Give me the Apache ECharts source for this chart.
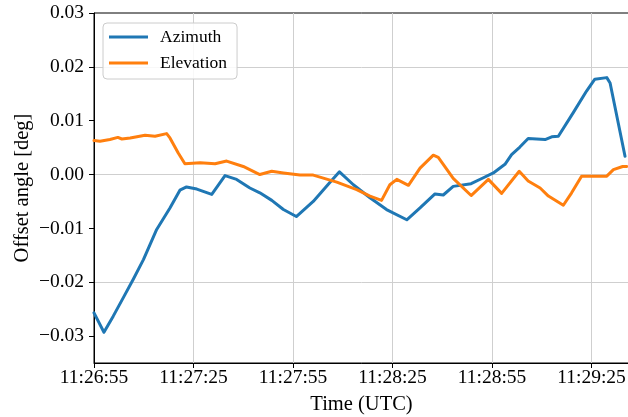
<!DOCTYPE html>
<html>
<head>
<meta charset="utf-8">
<script src="https://cdn.jsdelivr.net/npm/echarts@6/dist/echarts.min.js"></script>
<style>
  html, body { margin: 0; padding: 0; background: #fff; }
  #chart { width: 628px; height: 417px; }
</style>
</head>
<body>
<div id="chart"></div>
<script>
// Pointing offsets, seconds after 11:26:55 UTC
const startTime = '11:26:55';

const azimuthTime = [0, 3.0, 5.8, 8.8, 11.8, 14.9, 18.9, 22.9, 25.9, 27.9, 31.0, 35.5, 39.5, 43.0,
  47.0, 50.0, 53.6, 57.1, 61.0, 66.1, 71.1, 74.0, 78.2, 83.2, 88.2, 94.3, 98.3, 102.8, 105.3,
  108.3, 113.7, 117.4, 120.4, 123.9, 125.9, 128.4, 130.9, 136.0, 138.0, 140.0, 144.5, 148.5,
  151.0, 154.6, 155.6, 160.1];
const azimuth = [-0.0257, -0.0293, -0.0263, -0.0229, -0.0195, -0.0158, -0.0102, -0.0062, -0.0029,
  -0.0023, -0.0027, -0.0037, -0.0002, -0.0009, -0.0025, -0.0034, -0.0048, -0.0065, -0.0078,
  -0.0050, -0.0015, 0.0005, -0.0019, -0.0043, -0.0065, -0.0084, -0.0062, -0.0036, -0.0038,
  -0.0022, -0.0017, -0.0006, 0.0003, 0.0019, 0.0037, 0.0051, 0.0067, 0.0065, 0.0070, 0.0071,
  0.0115, 0.0155, 0.0177, 0.0180, 0.0170, 0.0034];

const elevationTime = [0, 1.8, 4.8, 7.2, 8.4, 10.9, 15.4, 18.4, 21.9, 22.9, 25.4, 27.4, 32.0, 36.5,
  40.0, 45.0, 50.0, 53.6, 57.1, 62.1, 66.1, 73.2, 79.2, 83.2, 86.7, 89.2, 91.3, 94.8, 98.3,
  102.3, 103.8, 108.3, 113.7, 118.9, 122.9, 128.2, 130.9, 134.5, 137.0, 141.5, 144.0, 147.0,
  154.6, 156.6, 159.4, 160.6];
const elevation = [0.0063, 0.0062, 0.0065, 0.0069, 0.0066, 0.0068, 0.0073, 0.0071, 0.0076, 0.0068,
  0.0040, 0.0020, 0.0022, 0.0020, 0.0025, 0.0015, 0.0000, 0.0006, 0.0003, -0.0001, -0.0001,
  -0.0014, -0.0028, -0.0040, -0.0048, -0.0019, -0.0009, -0.0020, 0.0012, 0.0036, 0.0032,
  -0.0007, -0.0039, -0.0009, -0.0035, 0.0006, -0.0012, -0.0025, -0.0040, -0.0057, -0.0034,
  -0.0003, -0.0003, 0.0009, 0.0015, 0.0015];

const timeTicks = [0, 30, 60, 90, 120, 150];
const angleTicks = [-0.03, -0.02, -0.01, 0.00, 0.01, 0.02, 0.03];

const FONT = "'Liberation Serif', 'DejaVu Serif', serif";

function pad2(n) { return (n < 10 ? '0' : '') + n; }
function clockLabel(sec) {
  const p = startTime.split(':').map(Number);
  let s = Math.round(p[0] * 3600 + p[1] * 60 + p[2] + sec);
  const h = Math.floor(s / 3600); s -= h * 3600;
  const m = Math.floor(s / 60); s -= m * 60;
  return h + ':' + pad2(m) + ':' + pad2(s);
}
function angleLabel(v) {
  return v.toFixed(2).replace('-', '\u2212').replace('\u22120.00', '0.00');
}
function pairs(xs, ys) { return xs.map((x, i) => [x, ys[i]]); }

const chart = echarts.init(document.getElementById('chart'), null, { renderer: 'canvas' });
chart.setOption({
  animation: false,
  backgroundColor: '#ffffff',
  textStyle: { fontFamily: FONT, color: '#000' },
  grid: {
    left: 94, right: -1, top: 13, bottom: 54,
    containLabel: false,
    outerBoundsMode: 'none',
    show: true, borderColor: '#000', borderWidth: 1, backgroundColor: 'transparent'
  },
  legend: {
    orient: 'vertical',
    left: 103, top: 23,
    padding: [4, 10, 6, 6],
    itemGap: 6,
    itemWidth: 39, itemHeight: 3,
    icon: 'rect',
    backgroundColor: 'rgba(255,255,255,0.85)',
    borderColor: '#cccccc', borderWidth: 1, borderRadius: 4,
    textStyle: { fontFamily: FONT, fontSize: 17.5, color: '#000', padding: [0, 0, 0, 7], lineHeight: 20 },
    data: ['Azimuth', 'Elevation']
  },
  xAxis: {
    type: 'value',
    min: 0, max: 161.3, interval: 30,
    name: 'Time (UTC)',
    nameLocation: 'middle', nameGap: 31, nameMoveOverlap: false,
    nameTextStyle: { fontFamily: FONT, fontSize: 20.5, color: '#000' },
    axisLine: { show: true, onZero: false, lineStyle: { color: '#000', width: 1 } },
    axisTick: { show: true, length: 5, inside: false, customValues: timeTicks, lineStyle: { color: '#000' } },
    axisLabel: {
      customValues: timeTicks, margin: 5,
      fontFamily: FONT, fontSize: 19.5, color: '#000',
      formatter: v => clockLabel(v)
    },
    splitLine: { show: true, lineStyle: { color: '#cfcfcf', width: 1 } }
  },
  yAxis: {
    type: 'value',
    min: -0.035, max: 0.03, interval: 0.005,
    name: 'Offset angle [deg]',
    nameLocation: 'middle', nameGap: 61, nameMoveOverlap: false,
    nameTextStyle: { fontFamily: FONT, fontSize: 20.5, color: '#000' },
    axisLine: { show: true, onZero: false, lineStyle: { color: '#000', width: 1 } },
    axisTick: { show: true, length: 5, inside: false, customValues: angleTicks, lineStyle: { color: '#000' } },
    axisLabel: {
      customValues: angleTicks, margin: 10,
      fontFamily: FONT, fontSize: 19.5, color: '#000',
      formatter: v => angleLabel(v)
    },
    splitLine: { show: true, lineStyle: { color: ['rgba(0,0,0,0)', '#cfcfcf'], width: 1 } }
  },
  series: [
    {
      name: 'Azimuth', type: 'line', showSymbol: false,
      data: pairs(azimuthTime, azimuth),
      itemStyle: { color: '#1f77b4' },
      lineStyle: { color: '#1f77b4', width: 3, join: 'round', cap: 'round' }
    },
    {
      name: 'Elevation', type: 'line', showSymbol: false,
      data: pairs(elevationTime, elevation),
      itemStyle: { color: '#ff7f0e' },
      lineStyle: { color: '#ff7f0e', width: 3, join: 'round', cap: 'round' }
    }
  ]
});
</script>
</body>
</html>
